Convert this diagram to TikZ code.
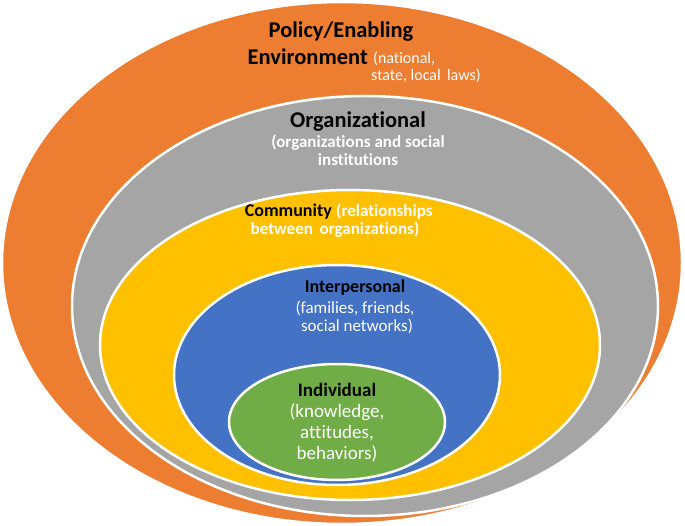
\documentclass[tikz,border=0pt]{standalone}
\usepackage{fontspec}
\setmainfont{Carlito}[RawFeature=-liga]
\usetikzlibrary{positioning}
\definecolor{policyorange}{RGB}{237,125,49}
\definecolor{orggray}{RGB}{165,165,165}
\definecolor{commyellow}{RGB}{255,192,0}
\definecolor{interblue}{RGB}{68,114,196}
\definecolor{indgreen}{RGB}{112,173,71}
\tikzset{
  ring/.style={draw=white,line width=2.5pt},
  head/.style={font=\bfseries\fontsize{22.5}{26}\selectfont,text=black,inner sep=0pt},
  note/.style={font=\fontsize{16}{19}\selectfont,text=white,inner sep=0pt,align=center}
}
\begin{document}
\begin{tikzpicture}[x=1pt,y=-1pt]
\useasboundingbox (0,0) rectangle (685,526);
\fill[ring,fill=policyorange] (342,263) ellipse (340 and 261);
\fill[ring,fill=orggray] (365,306) ellipse (293 and 210);
\fill[ring,fill=commyellow] (350,345) ellipse (250 and 155);
\fill[ring,fill=interblue] (337,375) ellipse (163 and 110);
\fill[ring,fill=indgreen] (337,422) ellipse (108 and 58);
% policy
\node[head] (pol1) at (341,32) {Policy/Enabling};
\node[head,anchor=east] (pol2) at (368,57) {Environment};
\node[note,anchor=west] (pol3) at (373,59) {(national,};
\node[note,anchor=west] (pol4) at (371,76) {state, local\, laws)};
% organizational
\node[head] (org1) at (358,122) {Organizational};
\node[note,font=\bfseries\fontsize{17}{20}\selectfont] (org2) at (358,143) {(organizations and social};
\node[note,font=\bfseries\fontsize{17}{20}\selectfont] (org3) at (358,160) {institutions};
% community
\node[head,font=\bfseries\fontsize{18}{21}\selectfont,anchor=east] (com1) at (332,212) {Community};
\node[note,font=\bfseries\fontsize{17}{20}\selectfont,anchor=west] (com2) at (336,212) {(relationships};
\node[note,font=\bfseries\fontsize{17}{20}\selectfont] (com3) at (335,230) {between\, organizations)};
% interpersonal
\node[head,font=\bfseries\fontsize{18}{21}\selectfont] (int1) at (355,288) {Interpersonal};
\node[note,font=\fontsize{17}{20}\selectfont] (int2) at (355,308) {(families, friends,};
\node[note,font=\fontsize{17}{20}\selectfont] (int3) at (357,326) {social networks)};
% individual
\node[head,font=\bfseries\fontsize{19}{22}\selectfont] (ind1) at (337,390) {Individual};
\node[note,font=\fontsize{19}{22}\selectfont] (ind2) at (337,412) {(knowledge,};
\node[note,font=\fontsize{19}{22}\selectfont] (ind3) at (337,433) {attitudes,};
\node[note,font=\fontsize{19}{22}\selectfont] (ind4) at (337,454) {behaviors)};
\end{tikzpicture}
\end{document}
